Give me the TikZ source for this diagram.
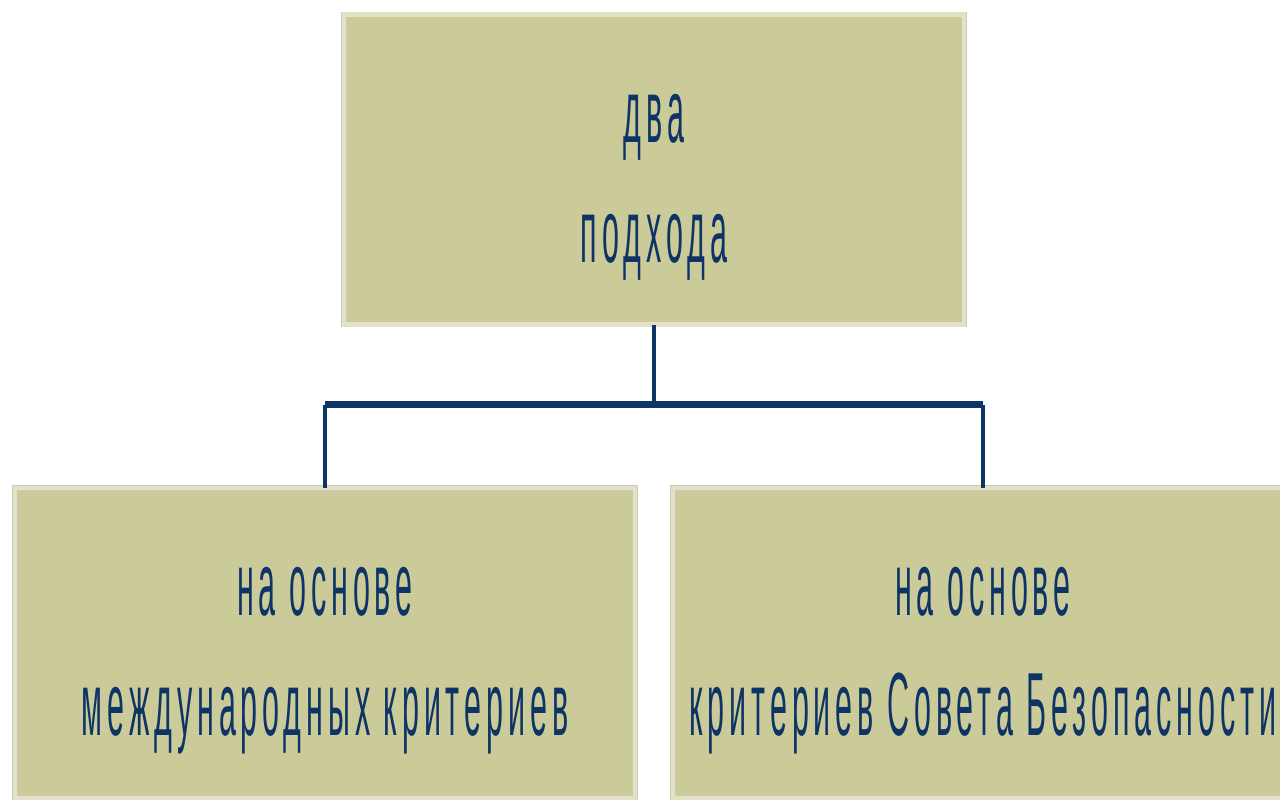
\documentclass[tikz,border=0pt]{standalone}
\usepackage{fontspec}
\usepackage{xcolor}
\usepackage{tikz}
\usetikzlibrary{positioning}

\newfontfamily\narrowfont[FakeStretch=0.34, LetterSpace=5.5]{Liberation Sans}

\definecolor{boxfill}{HTML}{CBCB9A}
\definecolor{boxband}{HTML}{E3E2C7}
\definecolor{boxrim}{HTML}{C9C9BA}
\definecolor{navy}{HTML}{0E3465}

\begin{document}
\begin{tikzpicture}

			% Define styles
			\tikzset{
				approach/.style={
					rectangle, fill=boxfill, draw=boxrim,
					double=boxband, double distance=2.5pt,
					minimum width=12.4cm, minimum height=6.2cm,
					inner xsep=2pt,
					align=center, text=navy,
					font=\narrowfont\fontsize{51}{68}\selectfont
				},
				link/.style={navy, line width=2.2pt},
				bus/.style={navy, line width=4pt}
			}

			% Canvas
			\useasboundingbox (0,0) rectangle (25.6,-16);
			\clip (0,0) rectangle (25.6,-16);

			% Top box
			\node (top) [approach] at (13.08,-3.39) {\strut два\\подхода};

			% Two approaches
			\node (intl)    [approach, below=3.26cm of top, xshift=-6.58cm] {\strut на основе\\международных критериев};
			\node (council) [approach, below=3.26cm of top, xshift=6.58cm] {\strut на основе\\критериев Совета Безопасности};

			% Connectors
			\coordinate (fork) at ([yshift=-1.6cm]top.south);
			\draw[link] (top.south) -- (fork);
			\draw[bus] (intl.north |- fork) -- (council.north |- fork);
			\draw[link] (intl.north |- fork) -- (intl.north);
			\draw[link] (council.north |- fork) -- (council.north);

\end{tikzpicture}
\end{document}
